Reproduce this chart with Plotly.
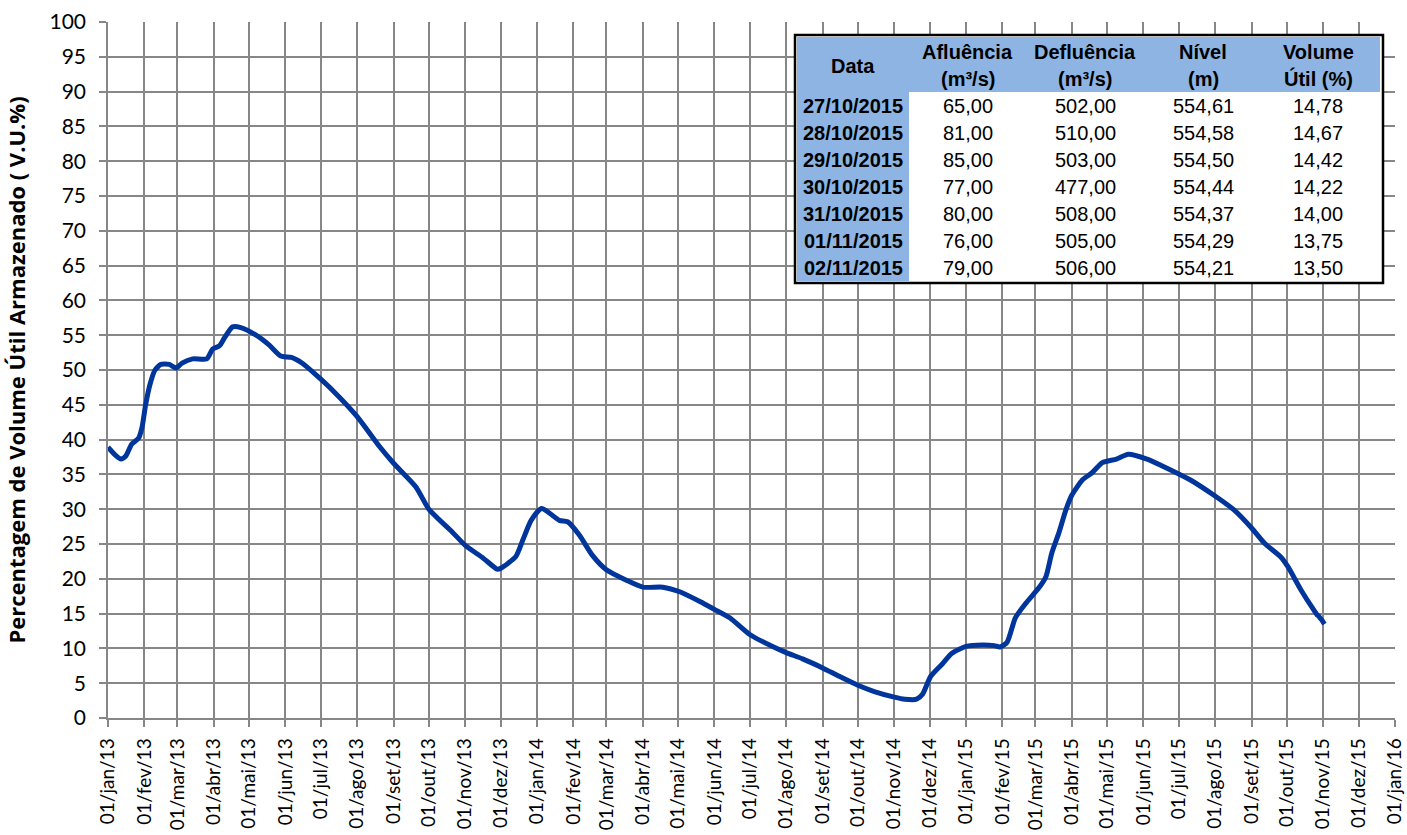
import plotly.graph_objects as go

# ---- series: % volume útil ----
dates = [
    "2013-01-01", "2013-01-07", "2013-01-12", "2013-01-16", "2013-01-21", "2013-01-27",
    "2013-01-30", "2013-02-02", "2013-02-06", "2013-02-10", "2013-02-15", "2013-02-22",
    "2013-02-28", "2013-03-05", "2013-03-14", "2013-03-26", "2013-03-31", "2013-04-06",
    "2013-04-10", "2013-04-17", "2013-04-24", "2013-05-07", "2013-05-18", "2013-05-28",
    "2013-06-06", "2013-06-15", "2013-06-27", "2013-07-11", "2013-08-01", "2013-08-20",
    "2013-09-01", "2013-09-20", "2013-10-01", "2013-10-21", "2013-11-01", "2013-11-16",
    "2013-11-28", "2013-12-01", "2013-12-14", "2013-12-20", "2013-12-27", "2014-01-05",
    "2014-01-20", "2014-01-27", "2014-02-06", "2014-02-17", "2014-03-01", "2014-03-18",
    "2014-04-01", "2014-04-18", "2014-05-03", "2014-05-20", "2014-06-01", "2014-06-14",
    "2014-07-01", "2014-07-20", "2014-08-01", "2014-08-15", "2014-09-01", "2014-09-15",
    "2014-10-01", "2014-10-15", "2014-11-01", "2014-11-10", "2014-11-20", "2014-11-25",
    "2014-12-02", "2014-12-12", "2014-12-20", "2015-01-01", "2015-01-15", "2015-01-25",
    "2015-01-30", "2015-02-05", "2015-02-12", "2015-02-21", "2015-03-04", "2015-03-10",
    "2015-03-15", "2015-03-21", "2015-03-27", "2015-04-01", "2015-04-10", "2015-04-18",
    "2015-04-27", "2015-05-09", "2015-05-19", "2015-06-04", "2015-06-21", "2015-07-11",
    "2015-07-31", "2015-08-17", "2015-09-01", "2015-09-12", "2015-09-26", "2015-10-02",
    "2015-10-13", "2015-10-24", "2015-10-27", "2015-10-28", "2015-10-29", "2015-10-30",
    "2015-10-31", "2015-11-01", "2015-11-02",
]
volume = [
    38.9, 37.8, 37.2, 37.6, 39.3, 40.2,
    41.8, 45.0, 48.1, 50.0, 50.8, 50.8,
    50.3, 51.0, 51.6, 51.6, 53.0, 53.5,
    54.6, 56.2, 56.1, 55.0, 53.6, 52.0,
    51.8, 51.0, 49.3, 47.1, 43.3, 39.0,
    36.6, 33.2, 30.0, 26.7, 24.8, 23.0,
    21.4, 21.5, 23.2, 25.6, 28.4, 30.1,
    28.4, 28.2, 26.3, 23.4, 21.3, 19.8,
    18.8, 18.8, 18.1, 16.7, 15.6, 14.4,
    12.0, 10.3, 9.4, 8.5, 7.2, 6.0,
    4.7, 3.8, 3.0, 2.7, 2.7, 3.4,
    6.0, 7.8, 9.3, 10.3, 10.5, 10.4,
    10.2, 10.9, 14.4, 16.5, 18.7, 20.3,
    23.7, 26.6, 29.9, 32.0, 34.2, 35.2,
    36.7, 37.2, 37.9, 37.2, 35.9, 34.2,
    32.0, 29.9, 27.3, 25.1, 23.1, 21.7,
    18.4, 15.5, 14.78, 14.67, 14.42, 14.22,
    14.00, 13.75, 13.50,
]

# ---- x ticks ----
tick_dates = [
    "2013-01-01", "2013-02-01", "2013-03-01", "2013-04-01", "2013-05-01", "2013-06-01",
    "2013-07-01", "2013-08-01", "2013-09-01", "2013-10-01", "2013-11-01", "2013-12-01",
    "2014-01-01", "2014-02-01", "2014-03-01", "2014-04-01", "2014-05-01", "2014-06-01",
    "2014-07-01", "2014-08-01", "2014-09-01", "2014-10-01", "2014-11-01", "2014-12-01",
    "2015-01-01", "2015-02-01", "2015-03-01", "2015-04-01", "2015-05-01", "2015-06-01",
    "2015-07-01", "2015-08-01", "2015-09-01", "2015-10-01", "2015-11-01", "2015-12-01",
    "2016-01-01",
]
tick_labels = [
    "01/jan/13", "01/fev/13", "01/mar/13", "01/abr/13", "01/mai/13", "01/jun/13",
    "01/jul/13", "01/ago/13", "01/set/13", "01/out/13", "01/nov/13", "01/dez/13",
    "01/jan/14", "01/fev/14", "01/mar/14", "01/abr/14", "01/mai/14", "01/jun/14",
    "01/jul/14", "01/ago/14", "01/set/14", "01/out/14", "01/nov/14", "01/dez/14",
    "01/jan/15", "01/fev/15", "01/mar/15", "01/abr/15", "01/mai/15", "01/jun/15",
    "01/jul/15", "01/ago/15", "01/set/15", "01/out/15", "01/nov/15", "01/dez/15",
    "01/jan/16",
]
y_ticks = list(range(0, 101, 5))

# ---- table ----
tab_header = [["Data"], ["Afluência", "(m³/s)"], ["Defluência", "(m³/s)"], ["Nível", "(m)"], ["Volume", "Útil (%)"]]
tab_data = ["27/10/2015", "28/10/2015", "29/10/2015", "30/10/2015", "31/10/2015", "01/11/2015", "02/11/2015"]
tab_aflu = ["65,00", "81,00", "85,00", "77,00", "80,00", "76,00", "79,00"]
tab_deflu = ["502,00", "510,00", "503,00", "477,00", "508,00", "505,00", "506,00"]
tab_nivel = ["554,61", "554,58", "554,50", "554,44", "554,37", "554,29", "554,21"]
tab_vol = ["14,78", "14,67", "14,42", "14,22", "14,00", "13,75", "13,50"]

BLUE_FILL = "#8DB4E2"
W, H = 1407, 835
PL, PR, PT, PB = 108, 1395, 22, 718  # plot area in page pixels
L, R, T, B = PL, W - PR, PT, H - PB
pw, ph = PR - PL, PB - PT


def px_x(x):
    return (x - PL) / pw


def px_y(y):
    return (PB - y) / ph


fig = go.Figure()
fig.add_trace(go.Scatter(
    x=dates, y=volume, mode="lines",
    line=dict(color="#00359B", width=5, shape="spline", smoothing=0.6),
    showlegend=False, hoverinfo="skip",
))

# table drawn with shapes + text
col_cx = [853, 968, 1085, 1203, 1318]
hdr_y = [52, 79]
row_y0, row_h = 106, 27
TFONT = "Liberation Sans"
TSIZE = 20

shapes = [
    dict(type="rect", xref="paper", yref="paper", x0=px_x(795), x1=px_x(1383),
         y0=px_y(283), y1=px_y(35), fillcolor="white", line=dict(width=0), layer="above"),
    dict(type="rect", xref="paper", yref="paper", x0=px_x(797), x1=px_x(1380),
         y0=px_y(92), y1=px_y(37), fillcolor=BLUE_FILL, line=dict(width=0), layer="above"),
    dict(type="rect", xref="paper", yref="paper", x0=px_x(797), x1=px_x(909),
         y0=px_y(281), y1=px_y(92), fillcolor=BLUE_FILL, line=dict(width=0), layer="above"),
    dict(type="rect", xref="paper", yref="paper", x0=px_x(795), x1=px_x(1383),
         y0=px_y(283), y1=px_y(35), line=dict(color="black", width=2.5), layer="above"),
]

annotations = []
for cx, hdr in zip(col_cx, tab_header):
    ys = [66] if len(hdr) == 1 else hdr_y
    for txt, yy in zip(hdr, ys):
        annotations.append(dict(x=px_x(cx), y=px_y(yy), xref="paper", yref="paper",
                                text="<b>%s</b>" % txt, showarrow=False,
                                xanchor="center", yanchor="middle",
                                font=dict(family=TFONT, size=TSIZE, color="black")))
columns = [["<b>%s</b>" % d for d in tab_data], tab_aflu, tab_deflu, tab_nivel, tab_vol]
for cx, col in zip(col_cx, columns):
    for i, txt in enumerate(col):
        annotations.append(dict(x=px_x(cx), y=px_y(row_y0 + i * row_h), xref="paper", yref="paper",
                                text=txt, showarrow=False, xanchor="center", yanchor="middle",
                                font=dict(family=TFONT, size=TSIZE, color="black")))

grid = "#878787"
fig.update_xaxes(
    type="date", range=["2013-01-01", "2016-01-01"],
    tickmode="array", tickvals=tick_dates, ticktext=tick_labels, tickangle=-90,
    showgrid=True, gridcolor=grid, gridwidth=1.5,
    ticks="outside", ticklen=7, tickcolor=grid, tickwidth=1.5,
    showline=True, linecolor=grid, linewidth=1.5,
    tickfont=dict(family="Lato", size=19, color="black"),
    ticklabelstandoff=4,
    zeroline=False,
)
fig.update_yaxes(
    range=[0, 100], tickmode="array", tickvals=y_ticks,
    showgrid=True, gridcolor=grid, gridwidth=1.5,
    ticks="outside", ticklen=7, tickcolor=grid, tickwidth=1.5,
    showline=True, linecolor=grid, linewidth=1.5,
    tickfont=dict(family="Lato", size=21, color="black"),
    ticklabelstandoff=9,
    zeroline=False,
    title=dict(text="<b>Percentagem de Volume Útil Armazenado ( V.U.%)</b>",
               font=dict(family="Open Sans", size=22, color="black"), standoff=18),
)
fig.update_layout(
    width=W, height=H,
    margin=dict(l=L, r=R, t=T, b=B, autoexpand=False),
    plot_bgcolor="white", paper_bgcolor="white",
    showlegend=False, shapes=shapes, annotations=annotations,
)
fig.write_html("out.html", config={"displayModeBar": False},
               post_script="document.body.style.margin='0';")
